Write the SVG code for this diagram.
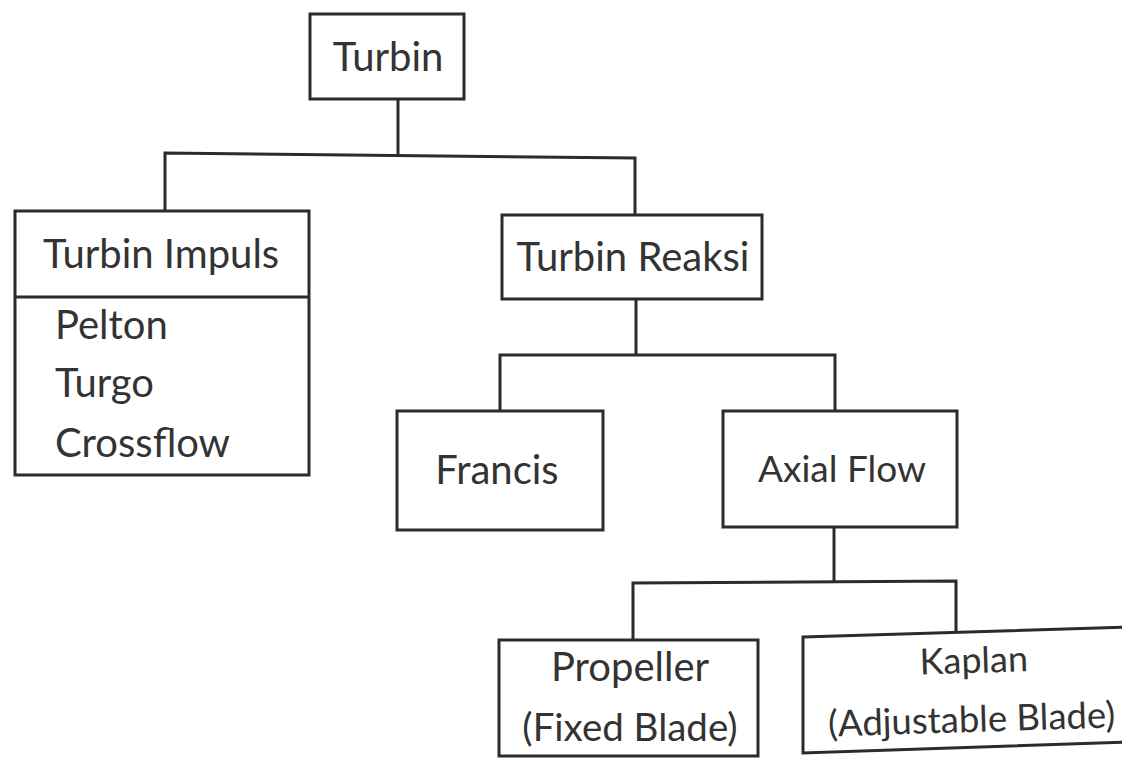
<svg xmlns="http://www.w3.org/2000/svg" width="1122" height="758" viewBox="0 0 1122 758">
<style>
.box{fill:#fff;stroke:#2b2b2b;stroke-width:3}
.ln{fill:none;stroke:#2b2b2b;stroke-width:3}
text{font-family:Lato,"Open Sans","Liberation Sans",sans-serif;font-size:40px;fill:#333}
.c{text-anchor:middle}
</style>
<rect width="1122" height="758" fill="#fff"/>
<g id="connectors">
<path class="ln" d="M398,99 V155"/>
<path class="ln" d="M165,211 V153 L635,158 V215"/>
<path class="ln" d="M636,299 V355"/>
<path class="ln" d="M500,411 V355 H835 V411"/>
<path class="ln" d="M834,527 V583"/>
<path class="ln" d="M633,640 V583 L956,581 V632"/>
</g>
<g id="turbin">
<rect class="box" x="310" y="14" width="154" height="85"/>
<text class="c" x="388" y="71">Turbin</text>
</g>
<g id="turbin-impuls">
<rect class="box" x="15" y="211" width="294" height="264"/>
<line class="ln" x1="15" y1="297" x2="309" y2="297"/>
<text x="43" y="268">Turbin Impuls</text>
<text x="55" y="339">Pelton</text>
<text x="55" y="397">Turgo</text>
<text x="55" y="457">Crossflow</text>
</g>
<g id="turbin-reaksi">
<rect class="box" x="502" y="215" width="260" height="84"/>
<text class="c" x="633" y="271">Turbin Reaksi</text>
</g>
<g id="francis">
<rect class="box" x="397" y="411" width="206" height="119"/>
<text class="c" x="497" y="484">Francis</text>
</g>
<g id="axial-flow">
<rect class="box" x="723" y="411" width="234" height="116"/>
<text class="c" x="842" y="482" style="font-size:37px">Axial Flow</text>
</g>
<g id="propeller">
<rect class="box" x="499" y="640" width="259" height="116"/>
<text class="c" x="630" y="681">Propeller</text>
<text class="c" x="630" y="741" style="font-size:38.5px">(Fixed Blade)</text>
</g>
<g id="kaplan">
<polygon class="box" points="803,637 1130,627 1130,742 803,753"/>
<g transform="rotate(-1.8 971 700)">
<text class="c" x="975" y="673" style="font-size:36px">Kaplan</text>
<text class="c" x="971" y="732" style="font-size:36.5px">(Adjustable Blade)</text>
</g>
</g>
</svg>
